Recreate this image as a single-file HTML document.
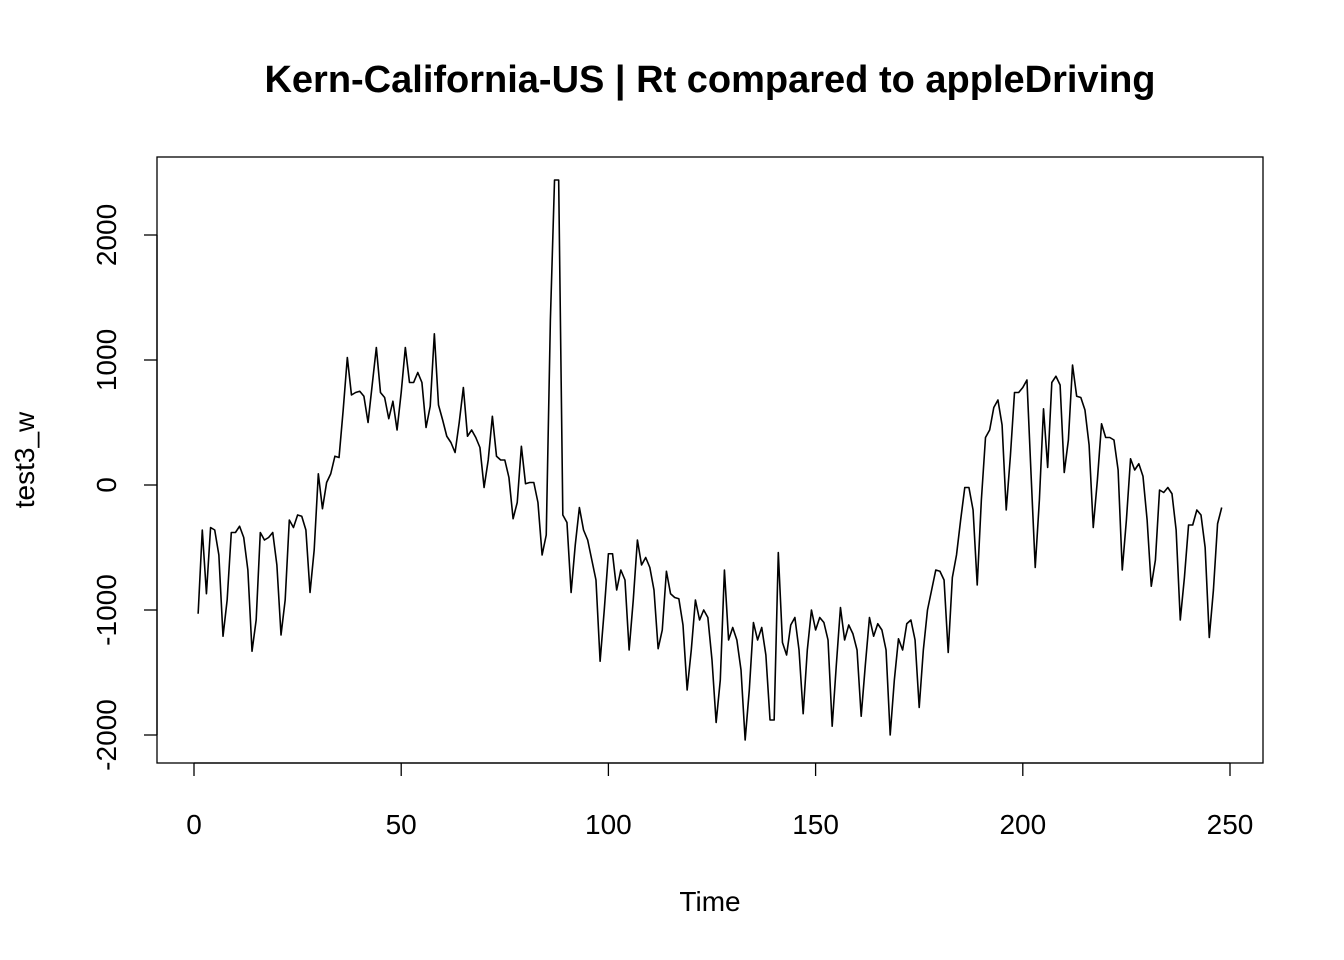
<!DOCTYPE html>
<html><head><meta charset="utf-8"><style>
html,body{margin:0;padding:0;background:#fff}
svg{display:block;font-family:"Liberation Sans",Arial,sans-serif}
</style></head><body>
<svg width="1344" height="960" viewBox="0 0 1344 960">
<text x="710" y="92" text-anchor="middle" font-size="38" font-weight="bold">Kern-California-US | Rt compared to appleDriving</text>
<rect x="157" y="157" width="1106" height="606" fill="none" stroke="#000" stroke-width="1.3"/>
<g id="xaxis"></g>
<g id="yaxis"></g>
<text x="710" y="911" text-anchor="middle" font-size="28">Time</text>
<text transform="translate(34,460) rotate(-90)" text-anchor="middle" font-size="28">test3_w</text>
<path id="series" fill="none" stroke="#000" stroke-width="1.6" stroke-linejoin="round"/>
</svg>
<script>
const values = [-1030,-360,-870,-340,-360,-560,-1210,-920,-380,-380,-330,-420,-680,-1330,-1080,-380,-440,-420,-380,-640,-1200,-920,-280,-340,-240,-250,-360,-860,-520,90,-190,20,90,230,220,600,1020,720,740,750,710,500,800,1100,740,700,530,670,440,740,1100,820,820,900,820,460,630,1210,640,520,390,340,260,500,780,390,440,380,300,-20,200,550,230,200,200,60,-270,-140,310,10,20,20,-140,-560,-400,1320,2440,2440,-240,-300,-860,-480,-180,-360,-440,-600,-760,-1410,-1000,-550,-550,-840,-680,-760,-1320,-920,-440,-640,-580,-660,-840,-1310,-1160,-690,-870,-900,-910,-1120,-1640,-1320,-920,-1080,-1000,-1060,-1400,-1900,-1560,-680,-1240,-1140,-1240,-1480,-2040,-1640,-1100,-1240,-1140,-1360,-1880,-1880,-540,-1260,-1360,-1120,-1060,-1320,-1830,-1320,-1000,-1160,-1060,-1100,-1240,-1930,-1440,-980,-1240,-1120,-1190,-1320,-1850,-1440,-1060,-1210,-1110,-1160,-1320,-2000,-1560,-1230,-1320,-1110,-1080,-1240,-1780,-1320,-1000,-840,-680,-690,-760,-1340,-740,-560,-280,-20,-20,-200,-800,-120,380,440,620,680,480,-200,230,740,740,780,840,80,-660,-120,610,140,820,870,800,100,360,960,710,700,600,320,-340,40,490,380,380,360,120,-680,-280,210,120,170,70,-280,-810,-600,-40,-60,-20,-70,-360,-1080,-740,-320,-320,-200,-240,-500,-1220,-840,-310,-180];
const xTicks = [0,50,100,150,200,250];
const yTicks = [-2000,-1000,0,1000,2000];
const NS='http://www.w3.org/2000/svg';
const sx = t => 194 + (t/250)*1036;
const sy = v => 485 - v*0.125;
let d='';
values.forEach((v,i)=>{d+=(i?'L':'M')+sx(i+1).toFixed(2)+','+sy(v).toFixed(2);});
document.getElementById('series').setAttribute('d',d);
const xa=document.getElementById('xaxis');
function mk(tag,attrs,parent){const e=document.createElementNS(NS,tag);for(const k in attrs)e.setAttribute(k,attrs[k]);parent.appendChild(e);return e;}
mk('line',{x1:sx(0),x2:sx(250),y1:763,y2:763,stroke:'#000','stroke-width':1.3},xa);
xTicks.forEach(t=>{
  const l=mk('line',{x1:sx(t),x2:sx(t),y1:763,y2:776,stroke:'#000','stroke-width':1.3},xa);
  
  
  const tx=mk('text',{x:sx(t),y:834,'text-anchor':'middle','font-size':28},xa);
  tx.textContent=t;
  
  
});
const ya=document.getElementById('yaxis');
mk('line',{x1:157,x2:157,y1:sy(-2000),y2:sy(2000),stroke:'#000','stroke-width':1.3},ya);
yTicks.forEach(v=>{
  const l=mk('line',{x1:144,x2:157,y1:sy(v),y2:sy(v),stroke:'#000','stroke-width':1.3},ya);
  
  
  const tx=mk('text',{transform:'translate(116,'+sy(v)+') rotate(-90)','text-anchor':'middle','font-size':28},ya);
  tx.textContent=v;
  
  
});
</script>
</body></html>
